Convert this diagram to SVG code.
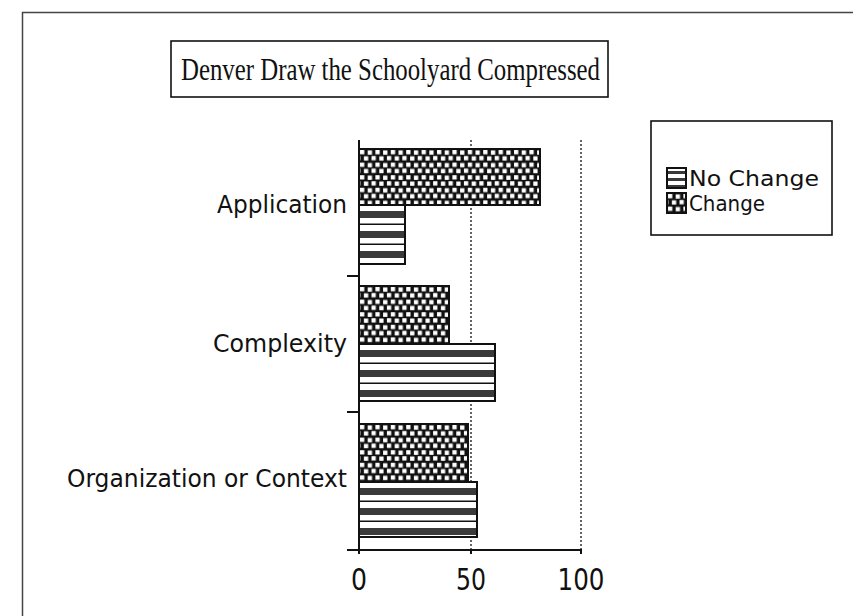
<svg xmlns="http://www.w3.org/2000/svg" width="853" height="616" viewBox="0 0 853 616">
  <defs>
    <!-- "Change": black ground with staggered white squares -->
    <pattern id="pat-change" patternUnits="userSpaceOnUse" width="15.4" height="12.6">
      <rect width="15.4" height="12.6" fill="#111"/>
      <g fill="#fff">
        <rect x="1" y="1" width="4.3" height="4.3"/>
        <rect x="8.7" y="1.4" width="4.3" height="4.3"/>
        <rect x="4.9" y="7.3" width="4.3" height="4.3"/>
        <rect x="12.5" y="7.0" width="4.3" height="4.3"/>
        <rect x="-2.9" y="7.0" width="4.3" height="4.3"/>
      </g>
    </pattern>
    <!-- "No Change": white bands, dark stippled bands and thin rules -->
    <pattern id="pat-nochange" patternUnits="userSpaceOnUse" width="20" height="20">
      <rect width="20" height="20" fill="#fff"/>
      <rect y="6" width="20" height="7" fill="#3a3a3a"/>
      <rect y="18.5" width="20" height="1.5" fill="#111"/>
    </pattern>
    <!-- smaller stripes for the legend key -->
    <pattern id="pat-nochange-key" patternUnits="userSpaceOnUse" width="20" height="7">
      <rect width="20" height="7" fill="#fff"/>
      <rect y="3" width="20" height="3" fill="#3a3a3a"/>
    </pattern>
    <style>
      .frame { fill: none; stroke: #444; stroke-width: 1.5; }
      .box { fill: #fff; stroke: #111; stroke-width: 1.6; }
      .bar { stroke: #111; stroke-width: 2; }
      .change { fill: url(#pat-change); }
      .nochange { fill: url(#pat-nochange); }
      .nochange-key { fill: url(#pat-nochange-key); }
      .axis { stroke: #111; stroke-width: 2; fill: none; }
      .grid { stroke: #111; stroke-width: 1.3; stroke-dasharray: 2 2; fill: none; }
      .cat { font-family: "DejaVu Sans", Verdana, sans-serif; font-size: 24px; fill: #111; text-anchor: end; }
      .tick { font-family: "DejaVu Sans", Verdana, sans-serif; font-size: 30px; fill: #111; text-anchor: middle; }
      .leg { font-family: "DejaVu Sans", Verdana, sans-serif; font-size: 22px; fill: #111; }
      .title { font-family: "Liberation Serif", "Times New Roman", serif; font-size: 31px; fill: #111; }
    </style>
  </defs>

  <rect width="853" height="616" fill="#fff"/>

  <!-- page frame (left and top edges) -->
  <path class="frame" d="M22.5 616 V12.5 H853"/>

  <!-- title -->
  <g id="title">
    <rect class="box" x="171" y="41" width="437" height="56"/>
    <text class="title" x="181" y="80" textLength="419" lengthAdjust="spacingAndGlyphs">Denver Draw the Schoolyard Compressed</text>
  </g>

  <!-- value grid lines -->
  <g id="grid">
    <line class="grid" x1="471" y1="140" x2="471" y2="550"/>
    <line class="grid" x1="581" y1="140" x2="581" y2="550"/>
  </g>

  <!-- bars: each drawn at the origin of its own group so the stripe phase starts at the bar top -->
  <g id="bar-application-change" transform="translate(359,149)">
    <rect class="bar change" width="181" height="56"/>
  </g>
  <g id="bar-application-nochange" transform="translate(359,205)">
    <rect class="bar nochange" width="46" height="59"/>
  </g>
  <g id="bar-complexity-change" transform="translate(359,286)">
    <rect class="bar change" width="90" height="58"/>
  </g>
  <g id="bar-complexity-nochange" transform="translate(359,344)">
    <rect class="bar nochange" width="136" height="57"/>
  </g>
  <g id="bar-organization-change" transform="translate(359,424)">
    <rect class="bar change" width="109" height="58"/>
  </g>
  <g id="bar-organization-nochange" transform="translate(359,482)">
    <rect class="bar nochange" width="118" height="55"/>
  </g>

  <!-- axes and tick marks -->
  <g id="axes">
    <path class="axis" d="M359 140 V551"/>
    <path class="axis" d="M347 550 H582"/>
    <path class="axis" d="M347 276 H359 M347 412 H359"/>
    <path class="axis" d="M359 550 V554 M471 550 V554 M581 550 V554"/>
  </g>

  <!-- category labels -->
  <g id="labels">
    <text class="cat" x="347" y="213" textLength="130" lengthAdjust="spacingAndGlyphs">Application</text>
    <text class="cat" x="347" y="352" textLength="134" lengthAdjust="spacingAndGlyphs">Complexity</text>
    <text class="cat" x="347" y="487" textLength="280" lengthAdjust="spacingAndGlyphs">Organization or Context</text>
  </g>

  <!-- value labels -->
  <g id="ticks">
    <text class="tick" x="359" y="590" textLength="16" lengthAdjust="spacingAndGlyphs">0</text>
    <text class="tick" x="471" y="590" textLength="30" lengthAdjust="spacingAndGlyphs">50</text>
    <text class="tick" x="581" y="590" textLength="47" lengthAdjust="spacingAndGlyphs">100</text>
  </g>

  <!-- legend -->
  <g id="legend">
    <rect class="box" x="651" y="121" width="181" height="114"/>
    <g id="legend-nochange">
      <g transform="translate(667,168)"><rect class="bar nochange-key" width="19" height="20" stroke-width="1.5"/></g>
      <text class="leg" x="689" y="186" textLength="130" lengthAdjust="spacingAndGlyphs">No Change</text>
    </g>
    <g id="legend-change">
      <g transform="translate(667,193)"><rect class="bar change" width="19" height="20" stroke-width="1.5"/></g>
      <text class="leg" x="689" y="211" textLength="76" lengthAdjust="spacingAndGlyphs">Change</text>
    </g>
  </g>
</svg>
